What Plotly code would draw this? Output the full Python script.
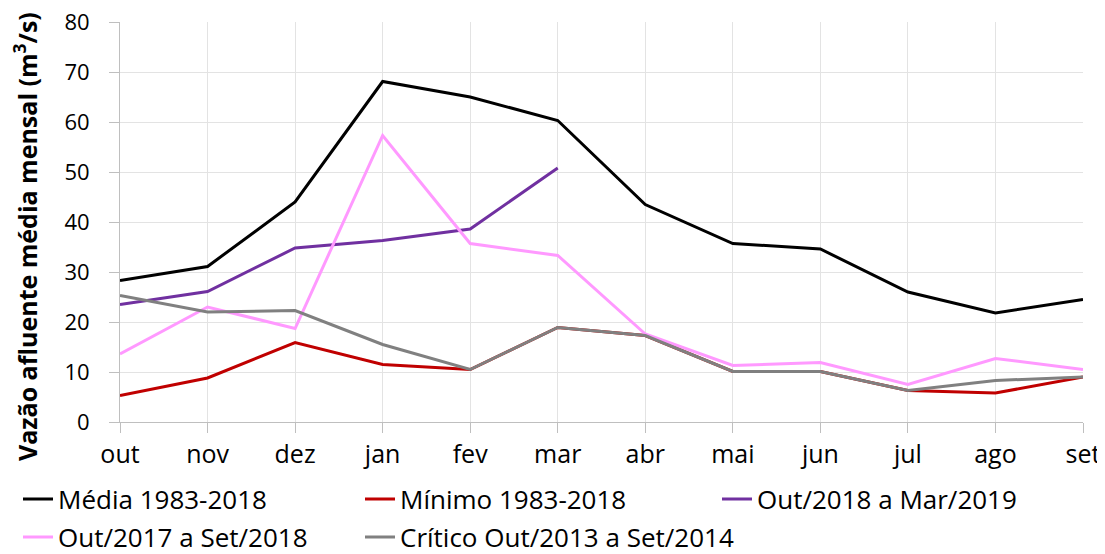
import plotly.graph_objects as go

months = ["out", "nov", "dez", "jan", "fev", "mar", "abr", "mai", "jun", "jul", "ago", "set"]

media = [28.3, 31.1, 44.0, 68.1, 65.0, 60.3, 43.5, 35.7, 34.6, 26.0, 21.8, 24.5]
minimo = [5.3, 8.8, 15.9, 11.5, 10.5, 18.9, 17.3, 10.1, 10.1, 6.3, 5.8, 9.0]
out18 = [23.5, 26.1, 34.8, 36.3, 38.6, 50.8]
out17 = [13.6, 23.0, 18.7, 57.3, 35.7, 33.3, 17.6, 11.3, 11.9, 7.5, 12.7, 10.5]
critico = [25.3, 22.0, 22.3, 15.5, 10.5, 18.9, 17.3, 10.1, 10.1, 6.3, 8.3, 9.0]

names = ["Média 1983-2018", "Mínimo 1983-2018", "Out/2018 a Mar/2019",
         "Out/2017 a Set/2018", "Crítico Out/2013 a Set/2014"]
colors = ["#000000", "#C00000", "#7030A0", "#FF99FF", "#808080"]
series = [media, minimo, out18, out17, critico]
y_title = "<b>Vazão afluente média mensal (m<sup>3</sup>/s)</b>"

FONT = "Open Sans"

fig = go.Figure()
legend_ids = ["legend", "legend2", "legend3", "legend4", "legend5"]
for i, (nm, col, vals) in enumerate(zip(names, colors, series)):
    fig.add_trace(go.Scatter(
        x=months[:len(vals)], y=vals, mode="lines", name=nm,
        line=dict(color=col, width=3),
        legend=legend_ids[i],
    ))

# page body has an 8px margin, so the figure is drawn offset by (8, 8)
W, H = 1105, 554
L, R, T, B = 112, 30, 14, 140
pw, ph = W - L - R, H - T - B
OFF = 8

def px_x(p):  # screen px -> paper x
    return (p - OFF - L) / pw

def px_y(p):  # screen px -> paper y
    return (H - B - (p - OFF)) / ph

leg_pos = [(18, 499), (360, 499), (717, 499), (18, 537), (360, 537)]
layout_legends = {}
for lid, (lx, ly) in zip(legend_ids, leg_pos):
    layout_legends[lid] = dict(
        x=px_x(lx), y=px_y(ly), xanchor="left", yanchor="middle",
        orientation="h", bgcolor="rgba(0,0,0,0)",
        font=dict(family=FONT, size=26, color="#000000"),
    )

fig.update_layout(
    width=W, height=H,
    margin=dict(l=L, r=R, t=T, b=B, autoexpand=False),
    paper_bgcolor="white", plot_bgcolor="white",
    font=dict(family=FONT, color="#000000"),
    showlegend=True,
    **layout_legends,
)

fig.add_annotation(
    text=y_title, textangle=-90, showarrow=False,
    xref="paper", yref="paper", x=px_x(25), y=px_y(237),
    xanchor="center", yanchor="middle",
    font=dict(family=FONT, size=25, color="#000000"),
)

fig.update_xaxes(
    type="category", categoryorder="array", categoryarray=months,
    range=[0, 11],
    showgrid=True, gridcolor="#E3E3E3", gridwidth=1,
    showline=True, linecolor="#BFBFBF", linewidth=1,
    ticks="outside", ticklen=10, tickcolor="#BFBFBF",
    tickfont=dict(family=FONT, size=25, color="#000000"),
    ticklabeloverflow="allow",
    zeroline=False,
)
fig.update_yaxes(
    range=[0, 80], dtick=10, tick0=0,
    showgrid=True, gridcolor="#E3E3E3", gridwidth=1,
    showline=True, linecolor="#BFBFBF", linewidth=1,
    ticks="outside", ticklen=10, tickcolor="#BFBFBF",
    tickfont=dict(family=FONT, size=22, color="#000000"),
    ticklabelstandoff=15,
    ticklabeloverflow="allow",
    zeroline=False,
)

fig.write_html("out.html")
